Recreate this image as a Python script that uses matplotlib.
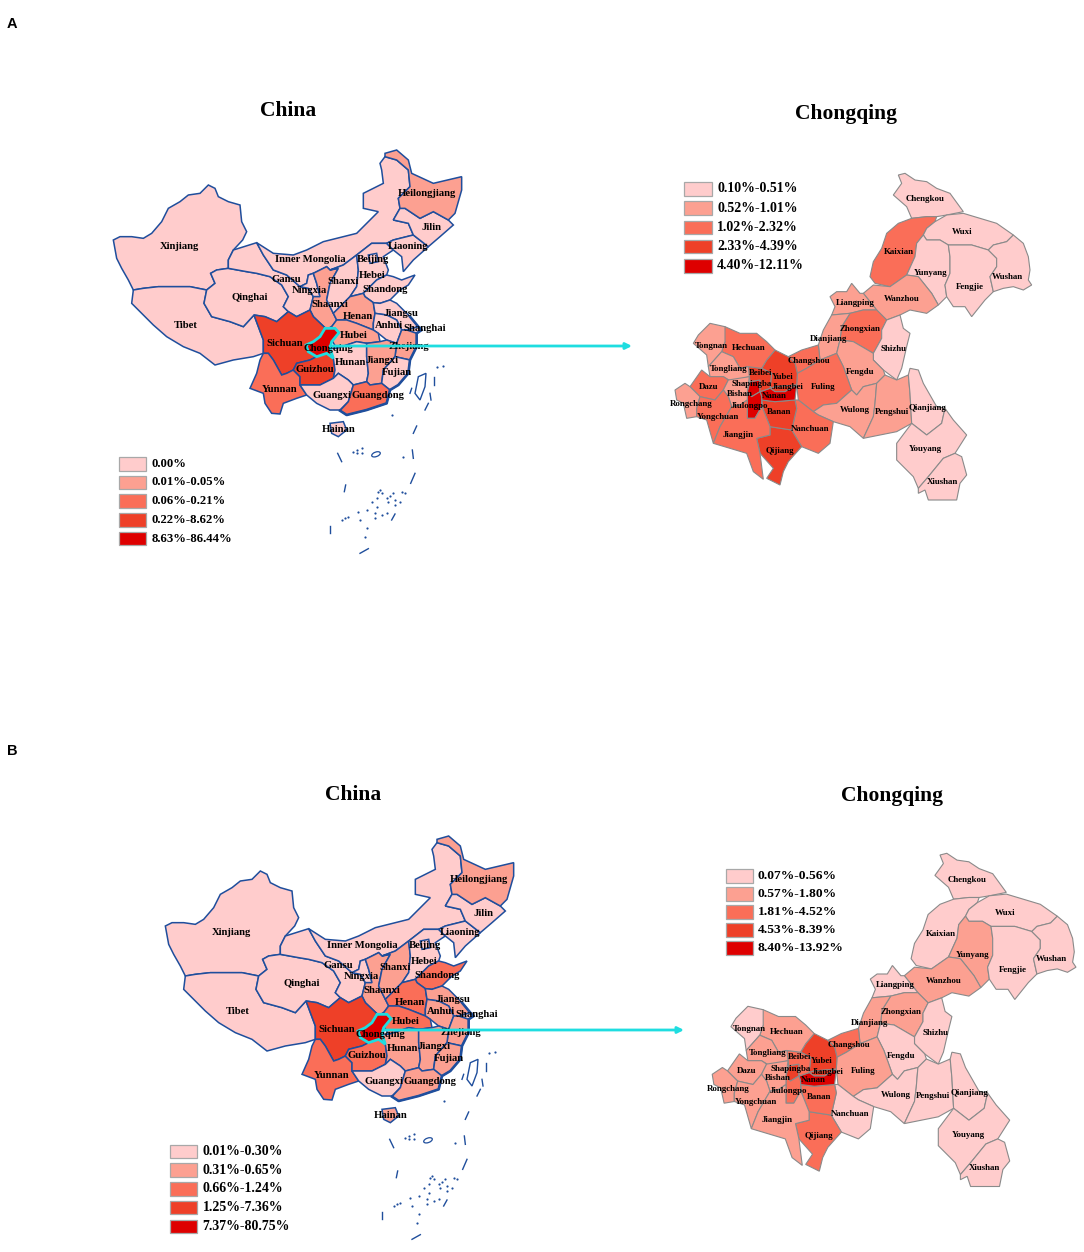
import matplotlib
matplotlib.use("Agg")
import matplotlib.pyplot as plt
from matplotlib.patches import Ellipse

# Colour classes shared by all four maps
class_colors = ['#FFCCCC', '#FCA091', '#FA6E58', '#EE4028', '#DE0000']
line_blue = '#1F4E9C'
line_grey = '#8A8A8A'
cyan = '#1FDDE0'
serif = 'Liberation Serif'

# Province outlines
china_shapes = {
    'Xinjiang': [(40,300),(60,290),(95,290),(130,295),(155,280),(185,245),(205,205),(240,185),(265,165),(300,160),(325,135),(345,145),(355,170),(385,185),(420,195),(425,245),(440,275),(428,300),(400,330),(385,360),(385,385),(350,390),(332,400),(345,430),(320,450),(270,440),(215,440),(175,440),(130,445),(100,450),(85,420),(65,385),(50,355)],
    'Tibet': [(100,450),(130,445),(175,440),(215,440),(270,440),(320,450),(312,490),(335,530),(390,545),(430,560),(462,525),(490,600),(490,640),(460,650),(400,660),(345,675),(300,640),(250,620),(200,590),(160,555),(125,520),(95,490)],
    'Qinghai': [(332,400),(350,390),(385,385),(440,395),(470,400),(510,410),(545,435),(565,470),(550,500),(565,515),(530,545),(495,530),(462,525),(430,560),(390,545),(335,530),(312,490),(320,450),(345,430)],
    'Gansu': [(385,385),(385,360),(400,330),(470,308),(490,345),(520,390),(560,405),(600,440),(625,445),(640,470),(630,510),(590,530),(565,515),(550,500),(565,470),(545,435),(510,410),(470,400),(440,395)],
    'Inner Mongolia': [(470,308),(520,340),(580,345),(620,330),(670,305),(730,290),(770,280),(800,250),(835,215),(790,205),(790,160),(850,130),(845,90),(840,70),(855,50),(890,60),(925,90),(930,140),(895,175),(900,205),(880,240),(925,250),(940,285),(880,300),(860,310),(815,310),(770,345),(730,375),(690,390),(680,380),(640,400),(625,405),(620,430),(600,440),(560,405),(520,390),(490,345)],
    'Ningxia': [(625,405),(640,400),(650,430),(660,470),(640,470),(625,445),(600,440),(620,430)],
    'Shaanxi': [(680,380),(690,390),(715,385),(690,430),(680,480),(700,520),(710,540),(695,560),(680,568),(640,530),(630,510),(640,470),(660,470),(650,430),(640,400)],
    'Shanxi': [(730,375),(770,345),(775,390),(770,440),(750,470),(720,500),(700,520),(680,480),(690,430),(715,385),(690,390)],
    'Hebei': [(770,345),(815,310),(860,310),(880,330),(850,350),(865,390),(860,405),(830,420),(790,460),(750,470),(770,440),(775,390)],
    'Beijing': [(805,345),(830,340),(835,365),(810,370)],
    'Liaoning': [(860,310),(880,300),(940,285),(985,320),(940,360),(910,395),(905,350),(880,330)],
    'Jilin': [(900,205),(915,205),(960,235),(1000,215),(1045,240),(1060,255),(1020,290),(985,320),(940,285),(925,250),(880,240)],
    'Heilongjiang': [(855,50),(855,40),(890,30),(925,60),(935,100),(1000,130),(1085,110),(1085,150),(1065,220),(1045,240),(1000,215),(960,235),(915,205),(900,205),(895,175),(930,140),(925,90),(890,60)],
    'Shandong': [(790,460),(830,420),(860,405),(880,410),(905,420),(945,405),(925,435),(900,450),(870,480),(840,490),(820,488),(795,470)],
    'Henan': [(720,500),(750,470),(790,460),(795,470),(820,488),(825,520),(820,550),(820,570),(770,550),(740,540),(710,540),(700,520)],
    'Jiangsu': [(840,490),(870,480),(890,490),(930,530),(955,560),(920,570),(905,570),(890,540),(860,525),(825,520),(820,488)],
    'Anhui': [(825,520),(860,525),(890,540),(905,570),(890,610),(860,600),(835,580),(820,570),(820,550)],
    'Shanghai': [(955,560),(965,570),(950,580),(920,570)],
    'Zhejiang': [(905,570),(920,570),(950,580),(950,620),(930,660),(885,650),(890,610)],
    'Hubei': [(680,568),(695,560),(710,540),(740,540),(770,550),(820,570),(835,580),(840,605),(800,610),(770,605),(710,625),(695,600),(715,580)],
    'Sichuan': [(462,525),(495,530),(530,545),(565,515),(590,530),(630,510),(640,530),(680,568),(660,590),(640,605),(618,615),(625,635),(650,650),(630,660),(590,670),(580,690),(560,700),(545,705),(520,660),(505,640),(490,640),(490,600)],
    'Yunnan': [(490,640),(505,640),(520,660),(545,705),(560,700),(580,690),(600,710),(600,735),(620,765),(590,775),(550,790),(540,822),(515,820),(495,790),(490,760),(450,745),(470,700),(480,660)],
    'Guizhou': [(580,690),(590,670),(630,660),(650,650),(680,640),(700,655),(705,690),(700,715),(660,735),(620,735),(600,735),(600,710)],
    'Hunan': [(710,625),(770,605),(800,610),(800,650),(805,700),(800,725),(760,735),(745,720),(715,700),(700,715),(705,690),(700,655),(690,625)],
    'Jiangxi': [(800,610),(840,605),(860,600),(890,610),(885,650),(850,690),(845,730),(810,735),(800,725),(805,700),(800,650)],
    'Fujian': [(885,650),(930,660),(925,700),(895,735),(870,750),(845,730),(850,690)],
    'Guangxi': [(620,765),(600,735),(620,735),(660,735),(700,715),(715,700),(745,720),(760,735),(745,785),(720,810),(690,810),(650,790)],
    'Guangdong': [(760,735),(800,725),(810,735),(845,730),(870,750),(860,790),(800,810),(740,825),(720,812),(745,785)],
    'Hainan': [(690,850),(730,845),(740,870),(715,890),(695,880)],
}
chongqing_outline = [(675,565),(705,565),(717,578),(695,605),(690,625),(700,655),(680,640),(650,650),(625,635),(618,615),(640,605),(660,590)]
taiwan_outline = [(955,710),(978,700),(975,740),(960,780),(945,760)]
coast_line = [(720,812),(740,825),(800,810),(860,790),(870,750),(895,735),(925,700),(930,660),(950,620),(950,580),(965,570),(955,560),(930,530)]

sea_dashes = [[(713,940),(725,965)],[(940,880),(950,858)],[(937,930),(940,955)],[(733,1055),(737,1035)],
              [(932,1030),(945,1000)],[(875,1140),(885,1122)],[(690,1158),(690,1180)],[(780,1240),(805,1226)],
              [(975,810),(985,790)],[(1003,710),(1003,735)],[(990,760),(993,780)],[(935,745),(930,760)]]
sea_dots = [(760,935),(770,930),(785,925),(770,940),(787,940),(910,952),(877,825),(1010,682),(1030,678),
            (835,1055),(845,1060),(830,1075),(860,1075),(880,1060),(905,1055),(915,1060),(865,1085),(885,1080),
            (900,1085),(885,1095),(830,1100),(815,1085),(800,1110),(825,1118),(845,1125),(860,1120),(775,1115),
            (780,1140),(745,1130),(735,1135),(725,1140),(800,1165),(825,1135),(795,1190),(840,1050),(870,1068)]

# District outlines of Chongqing
cq_shapes = {
    'Chengkou': [(715,45),(735,40),(765,60),(800,65),(830,85),(870,100),(910,155),(860,165),(830,170),(800,170),(755,175),(740,140),(700,105),(725,70)],
    'Kaixian': [(755,175),(800,170),(830,170),(825,185),(800,205),(790,225),(770,250),(765,290),(740,345),(690,380),(645,370),(630,350),(640,305),(665,265),(680,220),(715,190)],
    'Wuxi': [(800,205),(825,185),(860,165),(910,160),(960,175),(1010,190),(1060,225),(1040,245),(1000,255),(985,270),(935,255),(865,255),(840,240),(800,240),(790,225)],
    'Yunyang': [(770,250),(790,225),(800,240),(840,240),(865,255),(870,290),(870,340),(855,375),(860,410),(835,435),(815,400),(775,350),(740,345),(765,290)],
    'Fengjie': [(865,255),(935,255),(985,270),(1010,295),(1010,320),(990,350),(1000,395),(975,420),(935,470),(915,440),(880,440),(860,410),(855,375),(870,340),(870,290)],
    'Wushan': [(985,270),(1000,255),(1040,245),(1060,225),(1090,250),(1105,290),(1110,330),(1105,360),(1115,375),(1090,390),(1060,380),(1030,385),(1000,395),(990,350),(1010,320),(1010,295)],
    'Wanzhou': [(690,380),(740,345),(775,350),(815,400),(835,435),(800,460),(750,450),(720,465),(680,480),(650,450),(610,400),(640,375)],
    'Liangping': [(510,410),(530,395),(560,395),(575,370),(600,400),(610,400),(650,450),(610,450),(570,460),(515,465),(525,440)],
    'Zhongxian': [(570,460),(610,450),(650,450),(680,480),(665,510),(665,535),(640,580),(580,545),(540,540),(545,500)],
    'Dianjiang': [(515,465),(570,460),(545,500),(540,540),(530,580),(480,600),(475,555),(490,510)],
    'Shizhu': [(680,480),(720,465),(730,505),(750,520),(740,560),(725,625),(710,660),(670,630),(640,600),(640,580),(665,535),(665,510)],
    'Fengdu': [(540,540),(580,545),(640,580),(640,600),(670,630),(675,645),(650,670),(610,680),(590,705),(575,690),(550,620),(530,580)],
    'Changshou': [(385,590),(425,570),(475,555),(480,600),(440,625),(412,640),(405,610)],
    'Fuling': [(412,640),(440,625),(480,600),(530,580),(550,620),(575,690),(530,730),(490,735),(460,755),(415,720),(410,675)],
    'Wulong': [(460,755),(490,735),(530,730),(575,690),(590,705),(610,680),(650,670),(645,730),(640,770),(610,835),(570,800),(520,785),(475,765)],
    'Pengshui': [(650,670),(675,645),(710,660),(745,645),(750,700),(755,790),(710,815),(610,835),(640,770),(645,730)],
    'Qianjiang': [(745,645),(750,625),(775,630),(790,670),(830,740),(855,745),(845,790),(800,825),(755,790),(750,700)],
    'Youyang': [(710,850),(755,790),(800,825),(845,790),(855,745),(880,780),(920,825),(885,880),(850,895),(805,950),(775,985),(760,950),(710,900)],
    'Xiushan': [(805,950),(850,895),(885,880),(905,890),(920,945),(900,970),(890,1020),(805,1020),(795,990),(775,1000),(775,985)],
    'Nanchuan': [(405,720),(415,720),(460,755),(475,765),(520,785),(510,850),(475,880),(425,860),(395,810),(410,745)],
    'Qijiang': [(290,835),(330,825),(330,800),(395,810),(425,860),(385,905),(370,935),(360,975),(320,955),(340,925),(300,880)],
    'Banan': [(330,800),(310,750),(305,720),(345,725),(405,720),(410,745),(395,810)],
    'Yubei': [(320,600),(345,570),(385,590),(405,610),(412,640),(410,675),(345,680),(330,685),(335,640),(305,625)],
    'Jiangbei': [(330,685),(345,680),(410,675),(375,695),(345,695)],
    'Nanan': [(300,695),(330,685),(345,695),(375,695),(410,675),(405,720),(345,725),(305,720),(305,710)],
    'Shapingba': [(262,695),(270,665),(300,660),(300,695),(275,710)],
    'Jiulongpo': [(262,695),(275,710),(300,695),(305,710),(305,740),(285,775),(262,775),(262,720)],
    'Beibei': [(265,620),(305,625),(335,640),(330,685),(300,695),(300,660),(270,665)],
    'Hechuan': [(150,510),(195,500),(240,520),(290,520),(320,545),(345,570),(320,600),(305,625),(265,620),(240,625),(220,590),(185,575),(195,545)],
    'Tongnan': [(115,525),(150,490),(195,500),(195,545),(185,575),(145,620),(140,585),(100,550)],
    'Tongliang': [(145,620),(185,575),(220,590),(240,625),(265,620),(268,650),(215,665),(190,650),(150,650)],
    'Dazu': [(90,680),(125,630),(150,650),(190,650),(205,660),(190,690),(165,720),(120,710)],
    'Bishan': [(190,690),(205,660),(268,650),(262,695),(262,720),(240,735),(215,740),(205,710)],
    'Rongchang': [(45,690),(75,670),(90,680),(120,710),(110,745),(110,770),(80,775),(70,730),(50,720)],
    'Yongchuan': [(110,745),(120,710),(165,720),(190,690),(205,710),(215,740),(180,800),(160,850),(140,780),(110,770)],
    'Jiangjin': [(215,740),(240,735),(262,720),(262,775),(285,775),(305,740),(310,750),(330,800),(330,825),(290,835),(300,880),(310,958),(280,935),(260,880),(160,850),(180,800)],
}

# Label anchors
china_labels = {'Xinjiang':(238,320),'Tibet':(257,555),'Qinghai':(450,472),'Inner Mongolia':(632,358),'Gansu':(560,418),
                'Ningxia':(628,452),'Shanxi':(730,425),'Shaanxi':(688,494),'Hebei':(817,408),'Beijing':(820,360),
                'Liaoning':(925,320),'Jilin':(995,263),'Heilongjiang':(982,160),'Shandong':(855,450),'Henan':(773,530),
                'Jiangsu':(902,522),'Anhui':(868,558),'Shanghai':(975,565),'Hubei':(762,587),'Chongqing':(685,625),
                'Sichuan':(553,610),'Zhejiang':(925,620),'Hunan':(750,668),'Jiangxi':(845,662),'Fujian':(890,698),
                'Guizhou':(645,690),'Yunnan':(540,748),'Guangxi':(695,767),'Guangdong':(835,768),'Hainan':(717,870)}
cq_labels = {'Chengkou':(795,118),'Wuxi':(908,215),'Kaixian':(717,277),'Yunyang':(812,338),'Fengjie':(930,382),
             'Wushan':(1042,350),'Wanzhou':(725,417),'Liangping':(585,428),'Zhongxian':(600,508),'Dianjiang':(507,538),
             'Shizhu':(702,568),'Fengdu':(600,635),'Changshou':(448,604),'Fuling':(490,680),'Wulong':(585,750),
             'Pengshui':(695,755),'Qianjiang':(803,745),'Youyang':(797,868),'Xiushan':(847,967),'Nanchuan':(450,808),
             'Qijiang':(360,872),'Banan':(358,757),'Yubei':(368,650),'Jiangbei':(383,682),'Nanan':(343,708),
             'Shapingba':(275,673),'Beibei':(302,638),'Jiulongpo':(268,738),'Bishan':(238,702),'Hechuan':(265,565),
             'Tongnan':(155,558),'Tongliang':(207,628),'Dazu':(145,680),'Rongchang':(93,732),'Yongchuan':(173,770),
             'Jiangjin':(235,825)}

# Class of each region, panel A and panel B
china_names = list(china_shapes)
china_class_a = [0,0,0,0,0,0,1,0,0,0,0,0,1,0,1,0,0,0,1,1,3,2,3,0,1,0,0,2,0]
china_class_b = [0,0,0,0,0,0,1,1,0,0,0,0,1,2,2,1,1,0,1,2,3,2,2,1,1,1,0,1,1]
cq_names = list(cq_shapes)
cq_class_a = [0,2,0,0,0,0,1,1,2,1,0,1,2,2,1,1,0,0,0,2,3,3,3,3,4,4,4,3,2,1,1,2,1,1,2,2]
cq_class_b = [0,0,0,1,0,0,1,0,1,1,0,0,2,1,0,0,0,0,0,0,2,2,3,3,4,3,2,2,1,0,1,1,1,1,1,1]

legend_china_a = ['0.00%', '0.01%-0.05%', '0.06%-0.21%', '0.22%-8.62%', '8.63%-86.44%']
legend_cq_a = ['0.10%-0.51%', '0.52%-1.01%', '1.02%-2.32%', '2.33%-4.39%', '4.40%-12.11%']
legend_china_b = ['0.01%-0.30%', '0.31%-0.65%', '0.66%-1.24%', '1.25%-7.36%', '7.37%-80.75%']
legend_cq_b = ['0.07%-0.56%', '0.57%-1.80%', '1.81%-4.52%', '4.53%-8.39%', '8.40%-13.92%']

fig = plt.figure(figsize=(10.84, 12.52), dpi=100)
ax = fig.add_axes([0, 0, 1, 1])
ax.set_xlim(0, 1084)
ax.set_ylim(1252, 0)
ax.axis('off')


def draw_china(ox, oy, classes):
    # traced coordinates are at 3x, ox/oy is the page position of the origin
    def conv(pts):
        return [ox + p[0] / 3 for p in pts], [oy + p[1] / 3 for p in pts]

    for name, c in zip(china_names, classes):
        xs, ys = conv(china_shapes[name])
        ax.fill(xs, ys, facecolor=class_colors[c], edgecolor=line_blue, lw=1.1, zorder=2)
    xs, ys = conv(coast_line)
    ax.plot(xs, ys, color=line_blue, lw=1.9, zorder=2)
    xs, ys = conv(taiwan_outline)
    ax.fill(xs, ys, facecolor='white', edgecolor=line_blue, lw=1.0, zorder=2)
    for d in sea_dashes:
        xs, ys = conv(d)
        ax.plot(xs, ys, color=line_blue, lw=1.0, zorder=2)
    xs, ys = conv(sea_dots)
    ax.scatter(xs, ys, s=2.5, color=line_blue, lw=0, zorder=2)
    ax.add_patch(Ellipse((ox + 828 / 3, oy + 943 / 3), 9, 4.5, angle=-20, fill=False, edgecolor=line_blue, lw=0.9, zorder=2))
    xs, ys = conv(chongqing_outline)
    ax.fill(xs, ys, facecolor=class_colors[4], edgecolor=cyan, lw=2.0, zorder=3)
    for name, (lx, ly) in china_labels.items():
        ax.text(ox + lx / 3, oy + ly / 3, name, family=serif, weight='bold', fontsize=7.7,
                ha='center', va='center', color='black', zorder=4)


def draw_cq(fx, cx, fy, cy, classes):
    for name, c in zip(cq_names, classes):
        xs = [fx * (660 + p[0] / 3) + cx for p in cq_shapes[name]]
        ys = [fy * (160 + p[1] / 3) + cy for p in cq_shapes[name]]
        ax.fill(xs, ys, facecolor=class_colors[c], edgecolor=line_grey, lw=0.8, zorder=2)
    for name, (lx, ly) in cq_labels.items():
        ax.text(fx * (660 + lx / 3) + cx, fy * (160 + ly / 3) + cy, name, family=serif, weight='bold',
                fontsize=6.4, ha='center', va='center', color='black', zorder=4)


def draw_legend(x, y, w, h, step, tx, labels, size):
    for i, lab in enumerate(labels):
        ax.fill([x, x + w, x + w, x], [y + i * step, y + i * step, y + i * step + h, y + i * step + h],
                facecolor=class_colors[i], edgecolor='#A8A8A8', lw=0.9, zorder=2)
        ax.text(tx, y + i * step + h / 2, lab, family=serif, weight='bold', fontsize=size,
                ha='left', va='center', color='black', zorder=4)


def draw_arrow(x0, x1, y):
    ax.annotate('', xy=(x1, y), xytext=(x0, y), zorder=5,
                arrowprops=dict(arrowstyle='-|>', color=cyan, lw=2.0, mutation_scale=9, shrinkA=0, shrinkB=0))


# Panel A
draw_china(100, 140, china_class_a)
draw_cq(1, 0, 1, 0, cq_class_a)
draw_legend(119, 457, 27, 13.5, 18.7, 151.5, legend_china_a, 9.2)
draw_legend(684, 182, 27.5, 13.5, 19.3, 717, legend_cq_a, 10.0)
draw_arrow(330, 632, 346)
ax.text(288, 111, 'China', family=serif, weight='bold', fontsize=15.5, ha='center', va='center')
ax.text(846, 114, 'Chongqing', family=serif, weight='bold', fontsize=15.5, ha='center', va='center')
ax.text(7, 24, 'A', family='Liberation Sans', weight='bold', fontsize=10.5, ha='left', va='center')

# Panel B
draw_china(152, 826, china_class_b)
draw_cq(1.02, 23.7, 1.02, 676.5, cq_class_b)
draw_legend(169.5, 1144.5, 27.5, 13.5, 18.8, 202.5, legend_china_b, 10.0)
draw_legend(726, 869, 27, 13.5, 18.0, 758, legend_cq_b, 9.7)
draw_arrow(383, 684, 1030)
ax.text(353, 795, 'China', family=serif, weight='bold', fontsize=15.5, ha='center', va='center')
ax.text(892, 796, 'Chongqing', family=serif, weight='bold', fontsize=15.5, ha='center', va='center')
ax.text(7, 751, 'B', family='Liberation Sans', weight='bold', fontsize=10.5, ha='left', va='center')

fig.savefig('out.png', dpi=100, facecolor='white')
